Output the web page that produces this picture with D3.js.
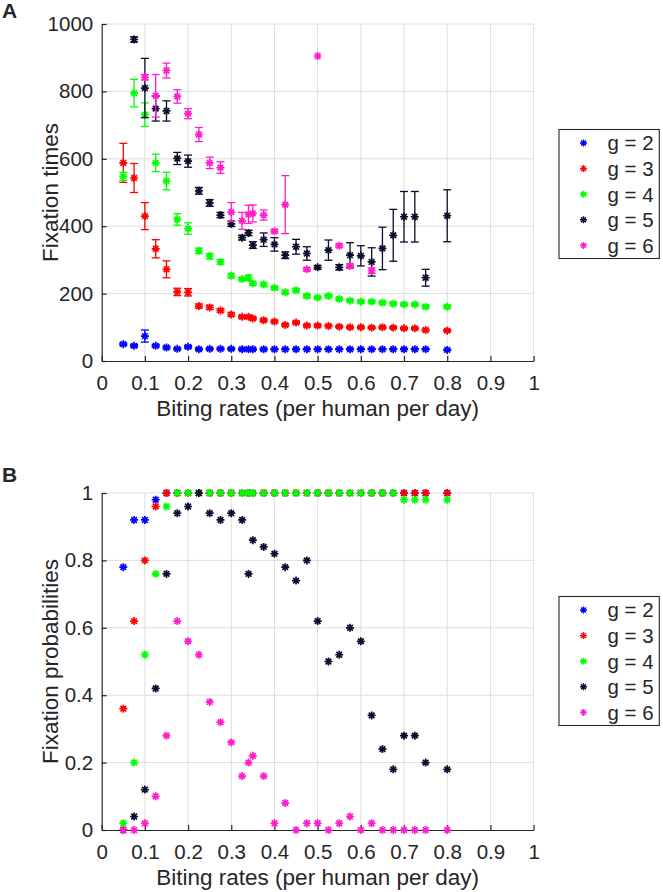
<!DOCTYPE html>
<html>
<head>
<meta charset="utf-8">
<script src="https://cdn.jsdelivr.net/npm/d3@7"></script>
<style>
  html, body { margin: 0; padding: 0; background: #fff; }
  svg { display: block; }
  text { font-family: "Liberation Sans", Arial, Helvetica, sans-serif; fill: #262626; }
</style>
</head>
<body>
<svg id="chart" width="663" height="892"></svg>
<script>
// ---------------- DATA ----------------
const bitingRates = [0.05, 0.075, 0.1, 0.125, 0.15, 0.175, 0.2, 0.225, 0.25, 0.275, 0.3, 0.325, 0.34, 0.35,
  0.375, 0.4, 0.425, 0.45, 0.475, 0.5, 0.525, 0.55, 0.575, 0.6, 0.625, 0.65, 0.675, 0.7, 0.725, 0.75, 0.8];

const seriesNames = ["g = 2", "g = 3", "g = 4", "g = 5", "g = 6"];
const seriesColors = ["#0000ff", "#ff0000", "#00ff00", "#0c0c2e", "#ff1ecb"];

// Panel A: fixation times (mean) and error half-widths
const timesG2 = [50, 45, 74, 45, 40, 36, 42, 35, 36, 36, 36, 35, 35, 35, 35, 35, 35, 35, 35, 35, 35, 35, 35, 35, 35, 35, 35, 35, 35, 35, 33];
const errG2   = [4, 4, 18, 4, 4, 3, 4, 3, 3, 3, 3, 3, 3, 3, 3, 2, 2, 2, 2, 2, 2, 2, 2, 2, 2, 2, 2, 2, 2, 2, 2];
const timesG3 = [588, 543, 430, 333, 272, 205, 204, 163, 159, 150, 138, 131, 131, 126, 121, 117, 107, 114, 105, 105, 104, 102, 100, 100, 99, 100, 99, 97, 97, 92, 90];
const errG3   = [58, 43, 40, 27, 25, 11, 11, 6, 6, 5, 5, 4, 4, 4, 4, 4, 4, 4, 4, 4, 3, 3, 3, 3, 3, 3, 3, 3, 3, 3, 3];
const timesG4 = [548, 795, 731, 588, 534, 420, 393, 327, 311, 294, 253, 243, 247, 230, 227, 217, 204, 210, 193, 188, 193, 184, 179, 176, 176, 173, 170, 168, 168, 161, 161];
const errG4   = [12, 41, 35, 26, 26, 17, 17, 8, 8, 7, 6, 5, 8, 5, 5, 5, 5, 5, 5, 4, 4, 4, 4, 4, 4, 4, 4, 4, 4, 4, 4];
const timesG5 = [null, 954, 810, 749, 742, 601, 593, 505, 469, 433, 407, 366, 380, 344, 360, 346, 314, 339, 319, 278, 329, 278, 314, 312, 294, 334, 373, 428, 428, 247, 431];
const errG5   = [0, 8, 88, 37, 30, 18, 18, 10, 10, 8, 8, 7, 8, 10, 20, 20, 10, 22, 20, 5, 30, 8, 37, 30, 42, 63, 77, 75, 75, 25, 77];
const timesG6 = [null, null, 842, 787, 862, 785, 734, 672, 588, 574, 442, 416, 435, 438, 433, 385, 464, null, 272, 905, null, 342, 282, null, 268, null, null, null, null, null, null];
const errG6   = [0, 0, 8, 63, 22, 20, 15, 21, 17, 17, 28, 25, 27, 25, 15, 5, 86, 0, 5, 0, 0, 5, 6, 0, 8, 0, 0, 0, 0, 0, 0];

// Panel B: fixation probabilities
const probG2 = [0.78, 0.92, 0.92, 0.98, 1, 1, 1, 1, 1, 1, 1, 1, 1, 1, 1, 1, 1, 1, 1, 1, 1, 1, 1, 1, 1, 1, 1, 1, 1, 1, 1];
const probG3 = [0.36, 0.62, 0.80, 0.96, 1, 1, 1, 1, 1, 1, 1, 1, 1, 1, 1, 1, 1, 1, 1, 1, 1, 1, 1, 1, 1, 1, 1, 1, 1, 1, 1];
const probG4 = [0.02, 0.20, 0.52, 0.76, 0.96, 1, 1, 1, 1, 1, 1, 1, 1, 1, 1, 1, 1, 1, 1, 1, 1, 1, 1, 1, 1, 1, 1, 0.98, 0.98, 0.98, 0.98];
const probG5 = [0, 0.04, 0.12, 0.42, 0.76, 0.94, 0.96, 1.0, 0.94, 0.92, 0.94, 0.92, 0.76, 0.86, 0.84, 0.82, 0.78, 0.74, 0.80, 0.62, 0.50, 0.52, 0.60, 0.56, 0.34, 0.24, 0.18, 0.28, 0.28, 0.20, 0.18];
const probG6 = [0, 0, 0.02, 0.10, 0.28, 0.62, 0.56, 0.52, 0.38, 0.32, 0.26, 0.16, 0.20, 0.22, 0.16, 0.02, 0.08, 0, 0.02, 0.02, 0, 0.02, 0.04, 0, 0.02, 0, 0, 0, 0, 0, 0];

const xTicks = [0, 0.1, 0.2, 0.3, 0.4, 0.5, 0.6, 0.7, 0.8, 0.9, 1];
const xTickLabels = ["0", "0.1", "0.2", "0.3", "0.4", "0.5", "0.6", "0.7", "0.8", "0.9", "1"];
const yTicksA = [0, 200, 400, 600, 800, 1000];
const yTicksB = [0, 0.2, 0.4, 0.6, 0.8, 1];
const yTickLabelsB = ["0", "0.2", "0.4", "0.6", "0.8", "1"];

// ---------------- DRAWING ----------------
const svg = d3.select("#chart");
const tickFont = 20.5, labelFont = 22.5;

const asterisk = {
  draw(ctx, size) {
    const r = Math.sqrt(size) / 2, d = r * Math.SQRT1_2;
    ctx.moveTo(-r, 0); ctx.lineTo(r, 0);
    ctx.moveTo(0, -r); ctx.lineTo(0, r);
    ctx.moveTo(-d, -d); ctx.lineTo(d, d);
    ctx.moveTo(-d, d); ctx.lineTo(d, -d);
  }
};
const starPath = d3.symbol().type(asterisk).size(64)();
const starPathLegend = d3.symbol().type(asterisk).size(49)();

function panel(opts) {
  const { top, bottom, left, right, yDomain, yTicks, yFmt, yLabel, letter, letterY,
          series, legendTop } = opts;
  const x = d3.scaleLinear().domain([0, 1]).range([left, right]);
  const y = d3.scaleLinear().domain(yDomain).range([bottom, top]);
  const g = svg.append("g");

  // grid
  g.append("g").selectAll("line").data(xTicks.slice(1)).join("line")
    .attr("x1", d => x(d)).attr("x2", d => x(d)).attr("y1", y.range()[0]).attr("y2", y.range()[1])
    .attr("stroke", "#dedede").attr("stroke-width", 1);
  g.append("g").selectAll("line").data(yTicks.slice(1)).join("line")
    .attr("y1", d => y(d)).attr("y2", d => y(d)).attr("x1", left).attr("x2", right)
    .attr("stroke", "#dedede").attr("stroke-width", 1);

  // axes
  const xAxis = d3.axisBottom(x).tickValues(xTicks).tickFormat((d, i) => xTickLabels[i])
    .tickSizeInner(-5).tickSizeOuter(0).tickPadding(14.5);
  const yAxis = d3.axisLeft(y).tickValues(yTicks).tickFormat(yFmt)
    .tickSizeInner(-5).tickSizeOuter(0).tickPadding(8.5);
  const gx = g.append("g").attr("transform", `translate(0,${bottom})`).call(xAxis);
  const gy = g.append("g").attr("transform", `translate(${left},0)`).call(yAxis);
  [gx, gy].forEach(a => {
    a.select(".domain").attr("stroke", "#262626").attr("stroke-width", 1.2);
    a.selectAll(".tick line").attr("stroke", "#262626").attr("stroke-width", 1.2);
    a.selectAll(".tick text").attr("font-size", tickFont).attr("fill", "#262626")
      .style("font-family", '"Liberation Sans", Arial, Helvetica, sans-serif');
  });

  // axis labels
  g.append("text").attr("x", (left + right) / 2).attr("y", bottom + 54.7)
    .attr("text-anchor", "middle").attr("font-size", labelFont)
    .text("Biting rates (per human per day)");
  g.append("text").attr("transform", `translate(58,${(top + bottom) / 2}) rotate(-90)`)
    .attr("text-anchor", "middle").attr("font-size", labelFont).text(yLabel);
  g.append("text").attr("x", 2).attr("y", letterY).attr("font-size", 21)
    .attr("font-weight", "bold").attr("fill", "#000").text(letter);

  // series
  series.forEach((s, si) => {
    const color = seriesColors[si];
    const pts = bitingRates.map((r, i) => ({ r, v: s.values[i], e: s.errs ? s.errs[i] : 0 }))
      .filter(p => p.v !== null);
    const sg = g.append("g");
    if (s.errs) {
      const eb = sg.selectAll("g.eb").data(pts.filter(p => p.e > 0)).join("g").attr("class", "eb")
        .attr("stroke", color).attr("stroke-width", 1.3).attr("fill", "none");
      eb.append("line").attr("x1", p => x(p.r)).attr("x2", p => x(p.r))
        .attr("y1", p => y(p.v - p.e)).attr("y2", p => y(p.v + p.e));
      eb.append("line").attr("x1", p => x(p.r) - 4).attr("x2", p => x(p.r) + 4)
        .attr("y1", p => y(p.v - p.e)).attr("y2", p => y(p.v - p.e));
      eb.append("line").attr("x1", p => x(p.r) - 4).attr("x2", p => x(p.r) + 4)
        .attr("y1", p => y(p.v + p.e)).attr("y2", p => y(p.v + p.e));
    }
    sg.selectAll("path.m").data(pts).join("path").attr("class", "m")
      .attr("d", starPath).attr("transform", p => `translate(${x(p.r)},${y(p.v)})`)
      .attr("stroke", color).attr("stroke-width", 1.7).attr("fill", "none");
  });

  // legend
  const lx0 = 559, lx1 = 659.3, step = 25.6;
  const lh = step * 5 + 1;
  const lg = g.append("g");
  lg.append("rect").attr("x", lx0).attr("y", legendTop).attr("width", lx1 - lx0).attr("height", lh)
    .attr("fill", "#fff").attr("stroke", "#262626").attr("stroke-width", 1.1);
  seriesNames.forEach((name, i) => {
    const cy = legendTop + 13.5 + i * step;
    lg.append("path").attr("d", starPathLegend).attr("transform", `translate(583.5,${cy})`)
      .attr("stroke", seriesColors[i]).attr("stroke-width", 1.4).attr("fill", "none");
    lg.append("text").attr("x", 607.5).attr("y", cy).attr("dy", "0.36em")
      .attr("font-size", 20.5).attr("fill", "#000").text(name);
  });
}

panel({
  top: 24, bottom: 361, left: 101.7, right: 533.6,
  yDomain: [0, 1000], yTicks: yTicksA, yFmt: d => String(d),
  yLabel: "Fixation times", letter: "A", letterY: 18,
  legendTop: 129.5,
  series: [
    { values: timesG2, errs: errG2 },
    { values: timesG3, errs: errG3 },
    { values: timesG4, errs: errG4 },
    { values: timesG5, errs: errG5 },
    { values: timesG6, errs: errG6 }
  ]
});

panel({
  top: 493, bottom: 830, left: 101.7, right: 533.6,
  yDomain: [0, 1], yTicks: yTicksB, yFmt: (d, i) => yTickLabelsB[i],
  yLabel: "Fixation probabilities", letter: "B", letterY: 482,
  legendTop: 596.5,
  series: [
    { values: probG2 }, { values: probG3 }, { values: probG4 }, { values: probG5 }, { values: probG6 }
  ]
});
</script>
</body>
</html>
